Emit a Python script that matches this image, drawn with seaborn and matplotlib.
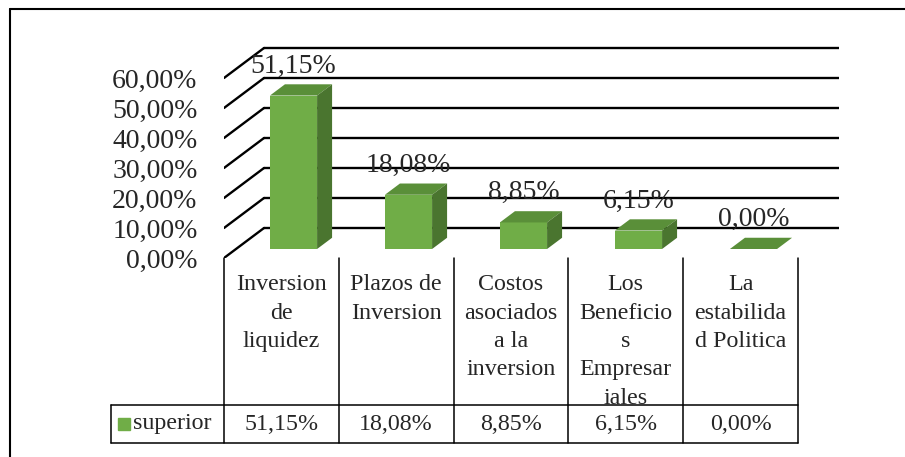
import matplotlib
matplotlib.use('Agg')
import matplotlib.pyplot as plt
import seaborn as sns
import pandas as pd
from matplotlib.patches import Polygon
from matplotlib.lines import Line2D

categories = ['Inversion\nde\nliquidez', 'Plazos de\nInversion', 'Costos\nasociados\na la\ninversion',
              'Los\nBeneficio\ns\nEmpresar\niales', 'La\nestabilida\nd Politica']
values = [51.15, 18.08, 8.85, 6.15, 0.00]
series_name = 'superior'
y_ticks = [0, 10, 20, 30, 40, 50, 60]

front_color = '#70ad47'
top_color = '#5a8f39'
side_color = '#4a752f'


def pct(v):
    return f'{v:.2f}%'.replace('.', ',')


# fake 3d (oblique): floor depth, bars sit in the middle of it
depth_x, depth_y = 0.348, 10.0
bar_w = 0.41
off_x, off_y = 0.3 * depth_x, 0.3 * depth_y
bdx, bdy = 0.375 * depth_x, 0.375 * depth_y

sns.set_theme(style='white')
plt.rcParams['font.family'] = ['Liberation Serif', 'DejaVu Serif']

fig = plt.figure(figsize=(9.05, 4.57), dpi=100)
ax = fig.add_axes([224 / 905, 199 / 457, 615 / 905, 216 / 457])

x_left = -0.5 - off_x
x_right = len(values) - 0.5 - off_x + depth_x

# back wall grid + side diagonals
for g in y_ticks:
    y_front = g - off_y
    ax.plot([x_left, x_left + depth_x], [y_front, y_front + depth_y], color='black', lw=1.7, zorder=0.5)
    ax.plot([x_left + depth_x, x_right], [y_front + depth_y] * 2, color='black', lw=1.7, zorder=0.5)

df = pd.DataFrame({'cat': categories, 'value': values})
sns.barplot(data=df, x='cat', y='value', order=categories, color=front_color, saturation=1,
            width=bar_w, errorbar=None, linewidth=0, ax=ax)

for i, v in enumerate(values):
    x0, x1 = i - bar_w / 2, i + bar_w / 2
    ax.add_patch(Polygon([(x0, v), (x1, v), (x1 + bdx, v + bdy), (x0 + bdx, v + bdy)],
                         closed=True, fc=top_color, ec='none', zorder=2))
    ax.add_patch(Polygon([(x1, 0), (x1, v), (x1 + bdx, v + bdy), (x1 + bdx, bdy)],
                         closed=True, fc=side_color, ec='none', zorder=2))
    ax.text(i, v + 7.7, pct(v), ha='center', va='baseline', fontsize=20, zorder=3)

ax.set_xlim(x_left, x_right)
ax.set_ylim(-off_y, 69)
ax.set_xticks([])
ax.set_yticks([t - off_y for t in y_ticks], [pct(t) for t in y_ticks], fontsize=20)
ax.tick_params(axis='y', length=0, pad=19)
ax.set_xlabel('')
ax.set_ylabel('')
sns.despine(ax=ax, left=True, bottom=True)

# data table under the chart
tab = fig.add_axes([111 / 905, 14 / 457, 687 / 905, 185 / 457])
label_x0 = -0.5 - 113 / 115
head_top = 185 / 38
tab.set_xlim(label_x0, len(values) - 0.5)
tab.set_ylim(0, head_top)
tab.axis('off')

for b in range(len(values) + 1):
    tab.plot([b - 0.5, b - 0.5], [0, head_top], color='black', lw=1.1, clip_on=False)
for yy in [0, 1]:
    tab.plot([label_x0, len(values) - 0.5], [yy, yy], color='black', lw=1.1, clip_on=False)
tab.plot([label_x0, label_x0], [0, 1], color='black', lw=1.1, clip_on=False)

for i, (c, v) in enumerate(zip(categories, values)):
    tab.text(i, head_top - 0.43, c, ha='center', va='top', fontsize=17.3, linespacing=1.46)
    tab.text(i, 0.5, pct(v), ha='center', va='center', fontsize=17.3)

tab.plot([label_x0 + 0.117], [0.51], marker='s', ms=8, color=front_color, linestyle='none')
tab.text(label_x0 + 0.19, 0.5, series_name, ha='left', va='center', fontsize=17.3)

# outer frame (only left and top visible)
fig.add_artist(Line2D([10 / 905, 10 / 905], [0, 1 - 9 / 457], transform=fig.transFigure, color='black', lw=1.5))
fig.add_artist(Line2D([10 / 905, 1], [1 - 9 / 457, 1 - 9 / 457], transform=fig.transFigure, color='black', lw=1.5))

fig.savefig('out.png', dpi=100)
